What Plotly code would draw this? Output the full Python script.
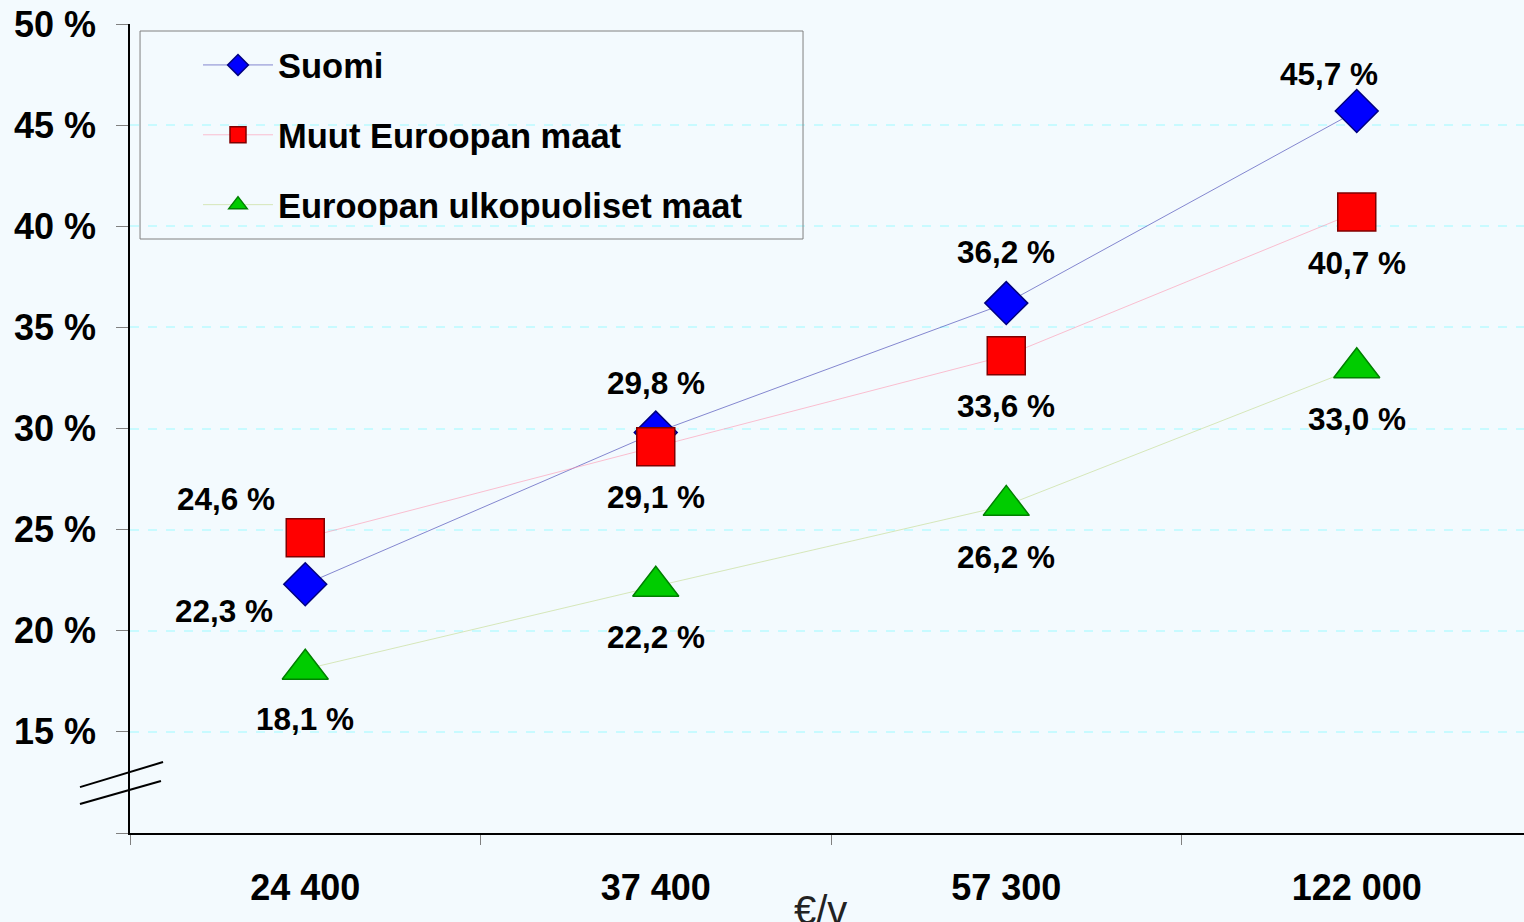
import plotly.graph_objects as go

categories = ["24 400", "37 400", "57 300", "122 000"]
series_names = ["Suomi", "Muut Euroopan maat", "Euroopan ulkopuoliset maat"]
suomi = [22.3, 29.8, 36.2, 45.7]
muut = [24.6, 29.1, 33.6, 40.7]
ulko = [18.1, 22.2, 26.2, 33.0]
y_ticks = [10, 15, 20, 25, 30, 35, 40, 45, 50]
x_title = "€/v"

values = [suomi, muut, ulko]
symbols = ["diamond", "square", "triangle-up"]
sizes = [33, 38, 40]
fills = ["#0000FF", "#FF0000", "#00CC00"]
edges = ["#000080", "#800000", "#008000"]
linecols = ["rgba(40,40,170,0.55)", "rgba(255,140,170,0.55)", "rgba(190,215,130,0.55)"]
# label offsets (px) per series / point
offsets = [
    [(-81, -27), (0, 50), (0, 51), (-28, 37)],
    [(-79, 39), (0, -50), (0, -50), (0, -51)],
    [(0, -50), (0, -51), (0, -52), (0, -51)],
]

BG = "#F3FAFE"
FONT = "Liberation Sans, Arial, sans-serif"

fig = go.Figure()
for i, (name, vals) in enumerate(zip(series_names, values)):
    fig.add_trace(go.Scatter(
        x=categories, y=vals, name=name, mode="lines+markers",
        legendgroup=name,
        line=dict(color=linecols[i], width=1),
        marker=dict(symbol=symbols[i], size=sizes[i], color=fills[i],
                    line=dict(color=edges[i], width=1.5)),
    ))

annotations = []
for i, vals in enumerate(values):
    for j, v in enumerate(vals):
        dx, dy = offsets[i][j]
        annotations.append(dict(
            x=categories[j], y=v, xref="x", yref="y",
            text=f"{v:.1f}".replace(".", ",") + " %",
            showarrow=False, xshift=dx, yshift=dy,
            font=dict(family=FONT, size=31.5, color="black", weight="bold"),
        ))
annotations.append(dict(
    x=0.495, y=-0.066, xref="paper", yref="paper", text=x_title,
    showarrow=False, yanchor="top", xanchor="center",
    font=dict(family=FONT, size=40, color="#222222"),
))

shapes = [
    dict(type="rect", xref="paper", yref="paper", x0=0.0072, x1=0.4828,
         y0=1 - (239 - 24) / 809, y1=1 - (31 - 24) / 809,
         line=dict(color="#808080", width=1), fillcolor="rgba(0,0,0,0)"),
    dict(type="line", xref="paper", yref="y", x0=-0.0359, x1=0.0237, y0=12.27, y1=13.51,
         line=dict(color="black", width=2)),
    dict(type="line", xref="paper", yref="y", x0=-0.0359, x1=0.0222, y0=11.43, y1=12.57,
         line=dict(color="black", width=2)),
]

fig.update_layout(
    width=1524, height=922,
    margin=dict(l=130, r=0, t=24, b=89),
    paper_bgcolor=BG, plot_bgcolor=BG,
    font=dict(family=FONT, color="black"),
    showlegend=True,
    legend=dict(
        x=(198 - 130) / 1394, y=1 - (36 - 24) / 809, xanchor="left", yanchor="top",
        bgcolor="rgba(0,0,0,0)", borderwidth=0,
        font=dict(family=FONT, size=34.5, weight="bold"),
        itemwidth=70, tracegroupgap=22,
    ),
    annotations=annotations,
    shapes=shapes,
)
fig.update_xaxes(
    type="category", range=[-0.5, -0.5 + 1394 / 350.5], automargin=False,
    showline=True, linecolor="black", linewidth=1.5,
    ticks="outside", tickson="boundaries", ticklen=10, tickcolor="#808080",
    showgrid=False, ticklabelstandoff=22,
    tickfont=dict(family=FONT, size=36, weight="bold"),
)
fig.update_yaxes(
    range=[10, 50], tickvals=y_ticks, automargin=False,
    ticktext=["" if t == 10 else f"{t} %" for t in y_ticks],
    showline=True, linecolor="black", linewidth=1.5,
    ticks="outside", ticklen=12, tickcolor="#808080",
    showgrid=True, gridcolor="#C8FAFF", griddash="dash", gridwidth=1.5,
    zeroline=False, ticklabelstandoff=13, ticklabeloverflow="allow",
    tickfont=dict(family=FONT, size=36, weight="bold"),
)

fig.write_html(
    "out.html",
    config={"displayModeBar": False},
    post_script="document.body.style.margin='0';document.body.style.background='" + BG + "';",
)
